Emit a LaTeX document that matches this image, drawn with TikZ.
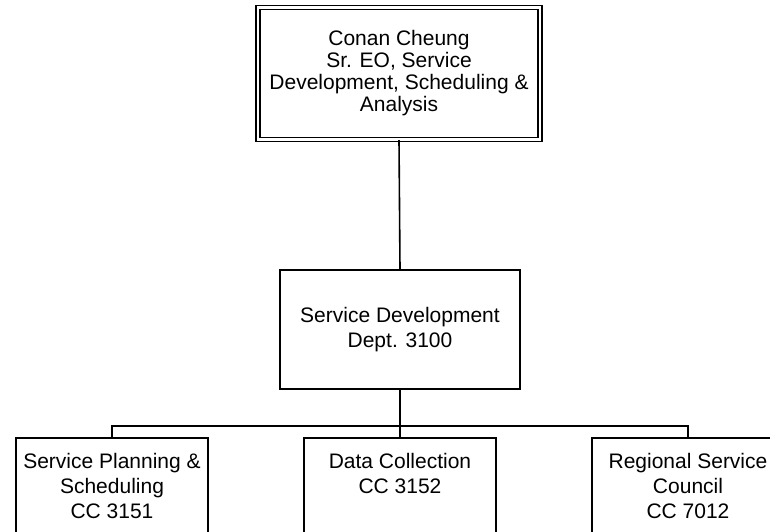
\documentclass[tikz,border=0pt]{standalone}
\usepackage{fontspec}
\setmainfont{Liberation Sans}
\usetikzlibrary{positioning}

\begin{document}
\begin{tikzpicture}[x=1pt,y=1pt,
  unit/.style={draw,line width=1.6pt,align=center,inner sep=0pt,font=\fontsize{21}{25}\selectfont},
  chief/.style={unit,double,double distance=2.4pt,line width=1.4pt,minimum width=282,minimum height=132,font=\fontsize{21}{22}\selectfont},
  dept/.style={unit,minimum width=240,minimum height=119},
  leaf/.style={unit,anchor=north,minimum width=192,inner ysep=15pt,text depth=90pt},
  link/.style={line width=1.6pt}]
\clip (0,0) rectangle (770,532);
\node[chief] (conan) at (399,458.5) {Conan Cheung\\Sr. EO, Service\\Development, Scheduling \&\\Analysis};
\node[dept] (dept) at (400,202.5) {Service Development\\Dept. 3100};
\node[leaf] (plan) at (112,95) {Service Planning \&\\Scheduling\\CC 3151};
\node[leaf] (data) at (400,95) {Data Collection\\CC 3152};
\node[leaf] (council) at (688,95) {Regional Service\\Council\\CC 7012};
\coordinate (bus) at (400,106);
\draw[link] (conan.south) -- (dept.north);
\draw[link] (dept.south) -- (bus);
\draw[link] (plan.north) |- (bus) -| (council.north);
\draw[link] (bus) -- (data.north);
\end{tikzpicture}
\end{document}
